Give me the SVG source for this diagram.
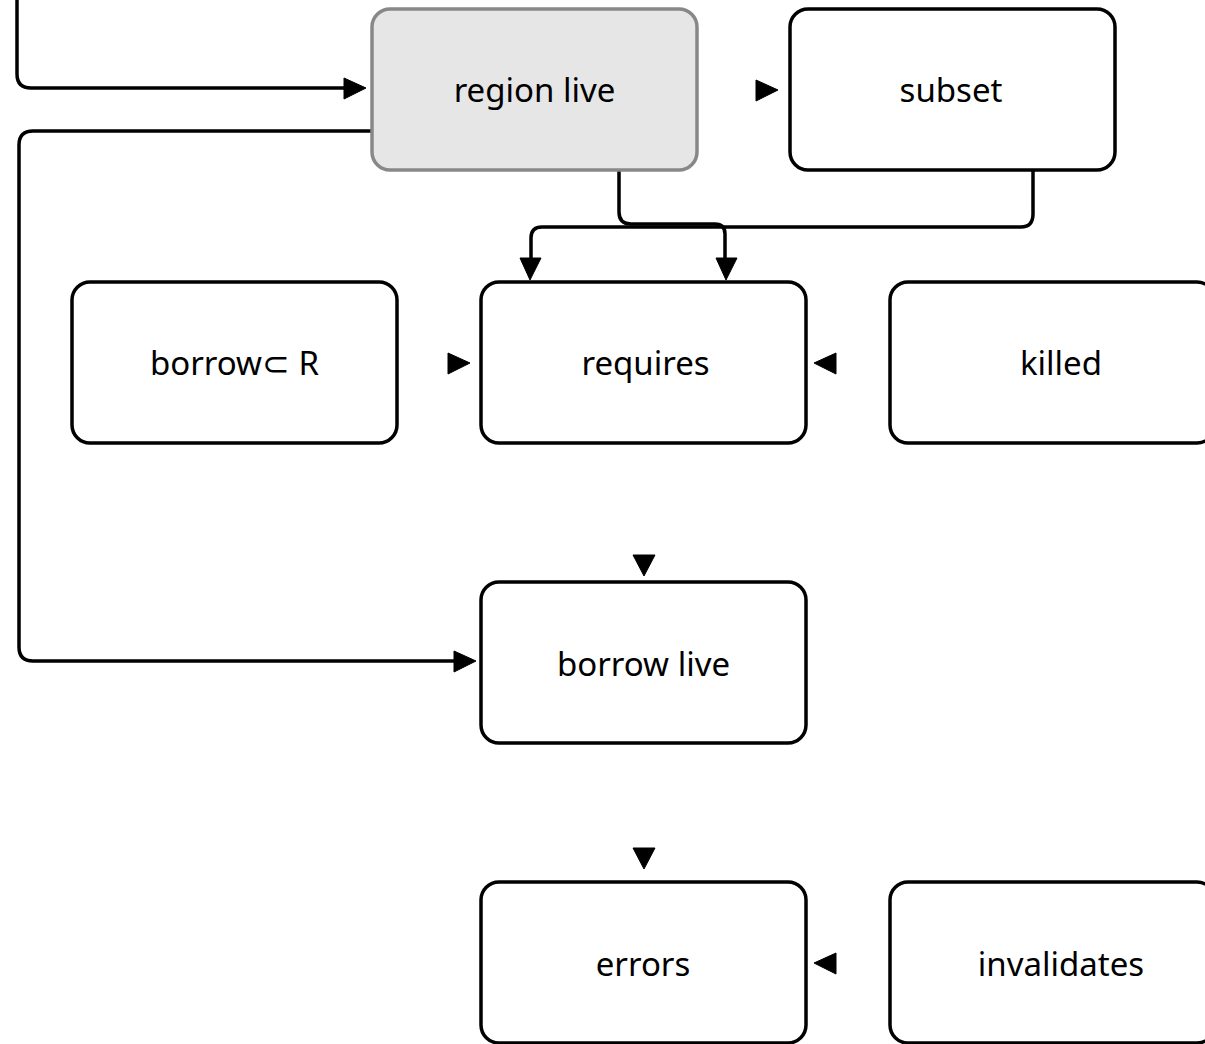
<svg xmlns="http://www.w3.org/2000/svg" width="1205" height="1044" viewBox="0 0 1205 1044">
  <style>
    .box { fill: #ffffff; stroke: #000000; stroke-width: 3.5; }
    .hl { fill: #e6e6e6; stroke: #888888; stroke-width: 3.5; }
    .lbl { font-family: "Noto Sans", "Open Sans", sans-serif; font-size: 33px; fill: #000000; text-anchor: middle; }
    .edge { fill: none; stroke: #000000; stroke-width: 3.5; }
    .head { fill: #000000; stroke: #000000; stroke-width: 1; stroke-linejoin: round; }
  </style>

  <g id="connectors">
    <!-- incoming edge from above into region live -->
    <path class="edge" d="M17,0 V74 Q17,88 31,88 H345"/>
    <polygon class="head" points="344,78 366,88 344,99"/>
    <!-- region live -> subset -->
    <polygon class="head" points="756,80 778,90 756,101"/>
    <!-- region live -> borrow live -->
    <path class="edge" d="M372,131 H33 Q19,131 19,145 V647 Q19,661 33,661 H455"/>
    <polygon class="head" points="454,651 476,661 454,672"/>
    <!-- region live -> requires -->
    <path class="edge" d="M619,170 V212 Q619,224 631,224 H715 Q725,224 725,234 V259"/>
    <polygon class="head" points="716,258 726,280 737,258"/>
    <!-- subset -> requires -->
    <path class="edge" d="M1033,170 V214 Q1033,227 1021,227 H542 Q531,227 531,238 V259"/>
    <polygon class="head" points="520,258 530,280 541,258"/>
    <!-- borrow⊂ R -> requires -->
    <polygon class="head" points="448,353 470,363 448,374"/>
    <!-- killed -> requires -->
    <polygon class="head" points="836,353 814,363 836,374"/>
    <!-- requires -> borrow live -->
    <polygon class="head" points="633,555 644,576 655,555"/>
    <!-- borrow live -> errors -->
    <polygon class="head" points="633,848 644,869 655,848"/>
    <!-- invalidates -> errors -->
    <polygon class="head" points="836,953 814,963 836,974"/>
  </g>

  <g id="region-live">
    <rect class="hl" x="372" y="9" width="325" height="161" rx="18"/>
    <text class="lbl" x="534.5" y="102">region live</text>
  </g>
  <g id="subset">
    <rect class="box" x="790" y="9" width="325" height="161" rx="18"/>
    <text class="lbl" x="951" y="102">subset</text>
  </g>
  <g id="borrow-in-r">
    <rect class="box" x="72" y="282" width="325" height="161" rx="18"/>
    <text class="lbl" x="234.5" y="375">borrow⊂ R</text>
  </g>
  <g id="requires">
    <rect class="box" x="481" y="282" width="325" height="161" rx="18"/>
    <text class="lbl" x="645.5" y="375">requires</text>
  </g>
  <g id="killed">
    <rect class="box" x="890" y="282" width="325" height="161" rx="18"/>
    <text class="lbl" x="1061" y="375">killed</text>
  </g>
  <g id="borrow-live">
    <rect class="box" x="481" y="582" width="325" height="161" rx="18"/>
    <text class="lbl" x="643.5" y="676">borrow live</text>
  </g>
  <g id="errors">
    <rect class="box" x="481" y="882" width="325" height="161" rx="18"/>
    <text class="lbl" x="643" y="976">errors</text>
  </g>
  <g id="invalidates">
    <rect class="box" x="890" y="882" width="325" height="161" rx="18"/>
    <text class="lbl" x="1061" y="976">invalidates</text>
  </g>
</svg>
